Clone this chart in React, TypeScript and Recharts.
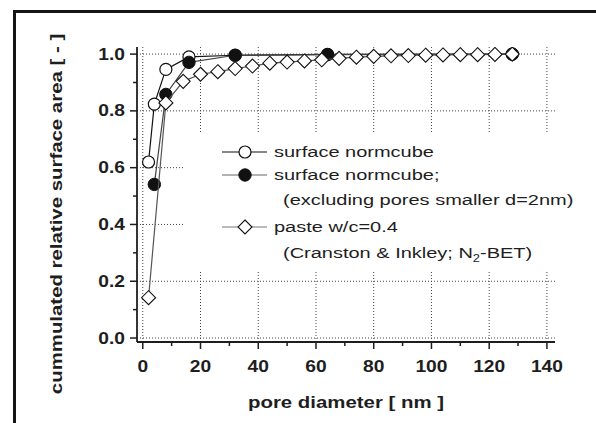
import { Legend, ReferenceLine, Scatter, ScatterChart, XAxis, YAxis } from 'recharts'

// pore diameter [nm] / cumulated relative surface area [-]
const normcubeX = [2, 4, 8, 16, 32, 64, 128]
const normcubeY = [0.62, 0.824, 0.946, 0.99, 0.996, 0.999, 1.0]

const normcubeExclX = [4, 8, 16, 32, 64, 128]
const normcubeExclY = [0.541, 0.858, 0.971, 0.996, 0.998, 1.0]

const pasteX = [2, 8, 14, 20, 26, 32, 38, 44, 50, 56, 62, 68, 74, 80, 86, 92, 98, 104, 110, 116, 122, 128]
const pasteY = [
  0.142, 0.828, 0.904, 0.929, 0.938, 0.949, 0.958, 0.968, 0.972, 0.976, 0.98, 0.985, 0.989, 0.992,
  0.994, 0.995, 0.996, 0.997, 0.998, 0.998, 0.999, 1.0,
]

const xTicks = [0, 10, 20, 30, 40, 50, 60, 70, 80, 90, 100, 110, 120, 130, 140]
const yTicks = [0, 0.1, 0.2, 0.3, 0.4, 0.5, 0.6, 0.7, 0.8, 0.9, 1.0]
const xGrid = [0, 20, 40, 60, 80, 100, 120, 140]
const yGrid = [0, 0.2, 0.4, 0.6, 0.8, 1.0]

const toPoints = (xs: number[], ys: number[]) => xs.map((x, i) => ({ x, y: ys[i] }))

const FONT = '"Liberation Sans", Arial, Helvetica, sans-serif'
const INK = '#1e1e1e'

const XTick = ({ x, y, payload }: any) => {
  const v = payload.value
  const major = v % 20 === 0
  return (
    <g>
      <line x1={x} x2={x} y1={y} y2={y + (major ? 7 : 4)} stroke={INK} strokeWidth={1.5} />
      {major && (
        <text
          transform={`translate(${x},${y + 29.5}) scale(1.2,1)`}
          textAnchor="middle"
          fontFamily={FONT}
          fontSize={16}
          fontWeight="bold"
          fill={INK}
        >
          {v}
        </text>
      )}
    </g>
  )
}

const YTick = ({ x, y, payload }: any) => {
  const v = payload.value
  const major = Math.round(v * 10) % 2 === 0
  return (
    <g>
      <line x1={x - (major ? 7 : 4)} x2={x} y1={y} y2={y} stroke={INK} strokeWidth={1.5} />
      {major && (
        <text
          transform={`translate(${x - 12},${y + 5.5}) scale(1.2,1)`}
          textAnchor="end"
          fontFamily={FONT}
          fontSize={16}
          fontWeight="bold"
          fill={INK}
        >
          {v.toFixed(1)}
        </text>
      )}
    </g>
  )
}

const XTitle = () => (
  <text
    transform="translate(346,408) scale(1.2,1)"
    textAnchor="middle"
    fontFamily={FONT}
    fontSize={17}
    fontWeight="bold"
    fill={INK}
  >
    pore diameter [ nm ]
  </text>
)

const YTitle = () => (
  <text
    transform="translate(62,214) rotate(-90) scale(1.2,1)"
    textAnchor="middle"
    fontFamily={FONT}
    fontSize={17}
    fontWeight="bold"
    fill={INK}
  >
    cummulated relative surface area [ - ]
  </text>
)

// markers
const OpenCircle = ({ cx, cy }: any) => <circle cx={cx} cy={cy} r={6} fill="#fff" stroke="#111" strokeWidth={1.2} />
const FilledCircle = ({ cx, cy }: any) => <circle cx={cx} cy={cy} r={6.2} fill="#111" stroke="#111" strokeWidth={1} />
const Diamond = ({ cx, cy }: any) => (
  <path
    d={`M${cx},${cy - 7} L${cx + 7},${cy} L${cx},${cy + 7} L${cx - 7},${cy} Z`}
    fill="#fff"
    stroke="#111"
    strokeWidth={1.1}
  />
)

const LegendBox = () => {
  const text = (x: number, y: number, content: any) => (
    <text
      transform={`translate(${x},${y}) scale(1.29,1)`}
      fontFamily={FONT}
      fontSize={15.5}
      fill={INK}
    >
      {content}
    </text>
  )
  return (
    <svg width={405} height={139} style={{ display: 'block', overflow: 'visible' }}>
      <line x1={39} x2={84} y1={20} y2={20} stroke="#111" strokeWidth={1.2} />
      <OpenCircle cx={62} cy={20} />
      {text(91, 25.3, 'surface normcube')}

      <line x1={39} x2={84} y1={43} y2={43} stroke="#666" strokeWidth={1.2} />
      <FilledCircle cx={62} cy={43} />
      {text(91, 48.3, 'surface normcube;')}
      {text(100, 73.3, '(excluding pores smaller d=2nm)')}

      <line x1={39} x2={84} y1={95} y2={95} stroke="#777" strokeWidth={1.2} />
      <Diamond cx={62} cy={95} />
      {text(91, 100.3, 'paste w/c=0.4')}
      {text(
        100,
        126.3,
        <>
          (Cranston &amp; Inkley; N
          <tspan dy={4} fontSize={10}>
            2
          </tspan>
          <tspan dy={-4}>-BET)</tspan>
        </>,
      )}
    </svg>
  )
}

export default function App() {
  return (
    <div
      style={{
        position: 'absolute',
        left: 0,
        top: 0,
        width: 596,
        height: 423,
        background: '#fff',
        overflow: 'hidden',
      }}
    >
      <div
        style={{
          position: 'absolute',
          left: 13,
          top: 10,
          width: 640,
          height: 480,
          borderLeft: '3px solid #151515',
          borderTop: '3px solid #151515',
        }}
      />
      <div style={{ position: 'absolute', left: 0, top: 0 }}>
        <ScatterChart width={596} height={423} margin={{ top: 47, right: 41, bottom: 51, left: 77 }}>
          <XAxis
            type="number"
            dataKey="x"
            domain={[-2, 142.8]}
            allowDataOverflow
            ticks={xTicks}
            interval={0}
            tickSize={0}
            tickMargin={0}
            tickLine={false}
            tick={<XTick />}
            axisLine={{ stroke: INK, strokeWidth: 1.8 }}
            height={30}
            label={<XTitle />}
          />
          <YAxis
            type="number"
            dataKey="y"
            domain={[-0.014, 1.025]}
            allowDataOverflow
            ticks={yTicks}
            interval={0}
            tickSize={0}
            tickMargin={0}
            tickLine={false}
            tick={<YTick />}
            axisLine={{ stroke: INK, strokeWidth: 1.8 }}
            width={60}
            label={<YTitle />}
          />
          {xGrid.map((v) => (
            <ReferenceLine key={`gx-${v}`} x={v} stroke="#444" strokeWidth={1} strokeDasharray="1 2" />
          ))}
          {yGrid.map((v) => (
            <ReferenceLine key={`gy-${v}`} y={v} stroke="#444" strokeWidth={1} strokeDasharray="1 2" />
          ))}
          <Legend
            layout="horizontal"
            verticalAlign="middle"
            align="center"
            content={() => <LegendBox />}
            wrapperStyle={{ left: 183, top: 132, width: 405, height: 139, background: '#fff' }}
          />
          <Scatter
            name="surface normcube"
            data={toPoints(normcubeX, normcubeY)}
            fill="#111"
            line={{ stroke: '#111', strokeWidth: 1.2 }}
            shape={<OpenCircle />}
            isAnimationActive={false}
          />
          <Scatter
            name="surface normcube (excl. d<2nm)"
            data={toPoints(normcubeExclX, normcubeExclY)}
            fill="#111"
            line={{ stroke: '#444', strokeWidth: 1.2 }}
            shape={<FilledCircle />}
            isAnimationActive={false}
          />
          <Scatter
            name="paste w/c=0.4"
            data={toPoints(pasteX, pasteY)}
            fill="#111"
            line={{ stroke: '#555', strokeWidth: 1.2 }}
            shape={<Diamond />}
            isAnimationActive={false}
          />
        </ScatterChart>
      </div>
    </div>
  )
}
